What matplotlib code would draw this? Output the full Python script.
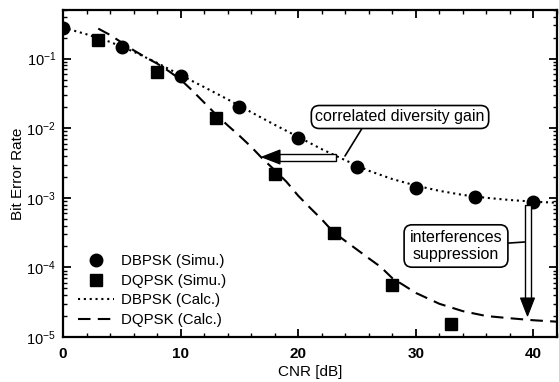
import matplotlib
matplotlib.use("Agg")
import matplotlib.pyplot as plt
from matplotlib.patches import Polygon, Rectangle
from matplotlib.ticker import MultipleLocator, LogLocator, NullFormatter

plt.rcParams['font.family'] = ['Liberation Sans', 'DejaVu Sans']
plt.rcParams['mathtext.fontset'] = 'custom'
plt.rcParams['mathtext.rm'] = 'Liberation Sans'
plt.rcParams['mathtext.it'] = 'Liberation Sans:italic'
plt.rcParams['mathtext.bf'] = 'Liberation Sans:bold'

# ---- data ----
dbpsk_sim_x = [0, 5, 10, 15, 20, 25, 30, 35, 40]
dbpsk_sim_y = [0.28, 0.148, 0.057, 0.0203, 0.0072, 0.0028, 0.0014, 0.00103, 0.00086]

dqpsk_sim_x = [3, 8, 13, 18, 23, 28, 33]
dqpsk_sim_y = [0.185, 0.065, 0.0141, 0.0022, 0.00031, 5.6e-5, 1.52e-5]

dbpsk_calc_x = [0, 2, 4, 6, 8, 10, 12, 14, 16, 18, 20, 22, 24, 26, 28, 30, 32, 34, 36, 38, 40, 42]
dbpsk_calc_y = [0.28, 0.224, 0.174, 0.126, 0.087, 0.058, 0.039, 0.026, 0.017, 0.0112,
                0.0075, 0.0050, 0.00347, 0.00245, 0.00186, 0.0015, 0.00126, 0.0011,
                0.00100, 0.00093, 0.00088, 0.00085]

dqpsk_calc_x = [3, 4, 5, 6, 7, 8, 9, 10, 11, 12, 13, 14, 15, 16, 17, 18, 19, 20, 21, 22,
                23, 24, 25, 26, 27, 28, 29, 30, 32, 34, 36, 38, 40, 42]
dqpsk_calc_y = [0.27, 0.219, 0.170, 0.132, 0.105, 0.085, 0.066, 0.050, 0.0347, 0.0234,
                0.0158, 0.0110, 0.0078, 0.0054, 0.0036, 0.0025, 0.0017, 0.00107, 0.00072,
                0.00049, 0.00032, 0.00024, 0.00018, 0.000135, 0.000102, 7.0e-5, 5.5e-5,
                4.3e-5, 3.0e-5, 2.35e-5, 2.0e-5, 1.86e-5, 1.74e-5, 1.66e-5]

x_ticks = [0, 10, 20, 30, 40]
legend_labels = ['DBPSK (Simu.)', 'DQPSK (Simu.)', 'DBPSK (Calc.)', 'DQPSK (Calc.)']

W, H = 559, 382
fig = plt.figure(figsize=(W / 100, H / 100), dpi=100)
ax = fig.add_axes([63 / W, 1 - 337 / H, (557 - 63) / W, (337 - 10) / H])

l1, = ax.plot(dbpsk_sim_x, dbpsk_sim_y, 'o', color='black', markersize=9, linestyle='none')
l2, = ax.plot(dqpsk_sim_x, dqpsk_sim_y, 's', color='black', markersize=8, linestyle='none')
l3, = ax.plot(dbpsk_calc_x, dbpsk_calc_y, color='black', lw=1.5, linestyle=(0, (1, 1.8)))
l4, = ax.plot(dqpsk_calc_x, dqpsk_calc_y, color='black', lw=1.5, linestyle=(0, (6, 3.5)))

ax.set_yscale('log')
ax.set_xlim(0, 42)
ax.set_ylim(1e-5, 0.5)
ax.set_xticks(x_ticks)
ax.xaxis.set_minor_locator(MultipleLocator(2))
ax.yaxis.set_major_locator(LogLocator(base=10, numticks=10))
ax.yaxis.set_minor_locator(LogLocator(base=10, subs=range(2, 10), numticks=10))
ax.yaxis.set_minor_formatter(NullFormatter())

for s in ax.spines.values():
    s.set_linewidth(1.6)
ax.tick_params(which='both', direction='in', top=True, right=True, color='black')
ax.tick_params(which='major', length=6, width=1.3)
ax.tick_params(which='minor', length=3, width=1.0)
ax.tick_params(axis='x', which='major', pad=7, labelsize=11)
ax.tick_params(axis='y', which='major', pad=5, labelsize=10.5)
for lab in ax.get_xticklabels():
    lab.set_fontweight('bold')

ax.set_xlabel('CNR [dB]', fontsize=11, labelpad=3)
ax.set_ylabel('Bit Error Rate', fontsize=11, labelpad=1)

leg = ax.legend([l1, l2, l3, l4], legend_labels, loc='lower left',
                bbox_to_anchor=(0.03, 0.03), frameon=False, fontsize=10.8,
                handlelength=2.4, handletextpad=0.5, labelspacing=0.38,
                borderpad=0, borderaxespad=0)


def fx(px):
    return px / W


def fy(py):
    return 1 - py / H


# correlated diversity gain box + leader
ax.annotate('correlated diversity gain', xy=(fx(345), fy(156)), xycoords='figure fraction',
            xytext=(fx(400), fy(117)), textcoords='figure fraction',
            ha='center', va='center', fontsize=11.5,
            bbox=dict(boxstyle='round,pad=0.25,rounding_size=0.5', fc='white', ec='black', lw=1.2),
            arrowprops=dict(arrowstyle='-', color='black', lw=1.2, relpos=(0.29, 0.0),
                            shrinkA=0, shrinkB=0))

# horizontal hollow arrow
fig.add_artist(Rectangle((fx(279), fy(160.5)), fx(336) - fx(279), fy(153.5) - fy(160.5),
                         transform=fig.transFigure, fc='white', ec='black', lw=1.0))
fig.add_artist(Polygon([(fx(262), fy(157)), (fx(280), fy(150)), (fx(280), fy(164))],
                       closed=True, transform=fig.transFigure, fc='black', ec='black', lw=0.8))

# interferences suppression box + leader
ax.annotate('interferences\nsuppression', xy=(fx(524.5), fy(242)), xycoords='figure fraction',
            xytext=(fx(456), fy(246)), textcoords='figure fraction',
            ha='center', va='center', fontsize=11.5, linespacing=1.1,
            bbox=dict(boxstyle='round,pad=0.35,rounding_size=0.5', fc='white', ec='black', lw=1.2),
            arrowprops=dict(arrowstyle='-', color='black', lw=1.2, relpos=(1.0, 0.58),
                            shrinkA=0, shrinkB=0))

# vertical hollow arrow
fig.add_artist(Rectangle((fx(524.5), fy(299)), fx(530.5) - fx(524.5), fy(205) - fy(299),
                         transform=fig.transFigure, fc='white', ec='black', lw=1.0))
fig.add_artist(Polygon([(fx(527.5), fy(316)), (fx(520.5), fy(298)), (fx(534.5), fy(298))],
                       closed=True, transform=fig.transFigure, fc='black', ec='black', lw=0.8))

fig.savefig('out.png', dpi=100, facecolor='white')
